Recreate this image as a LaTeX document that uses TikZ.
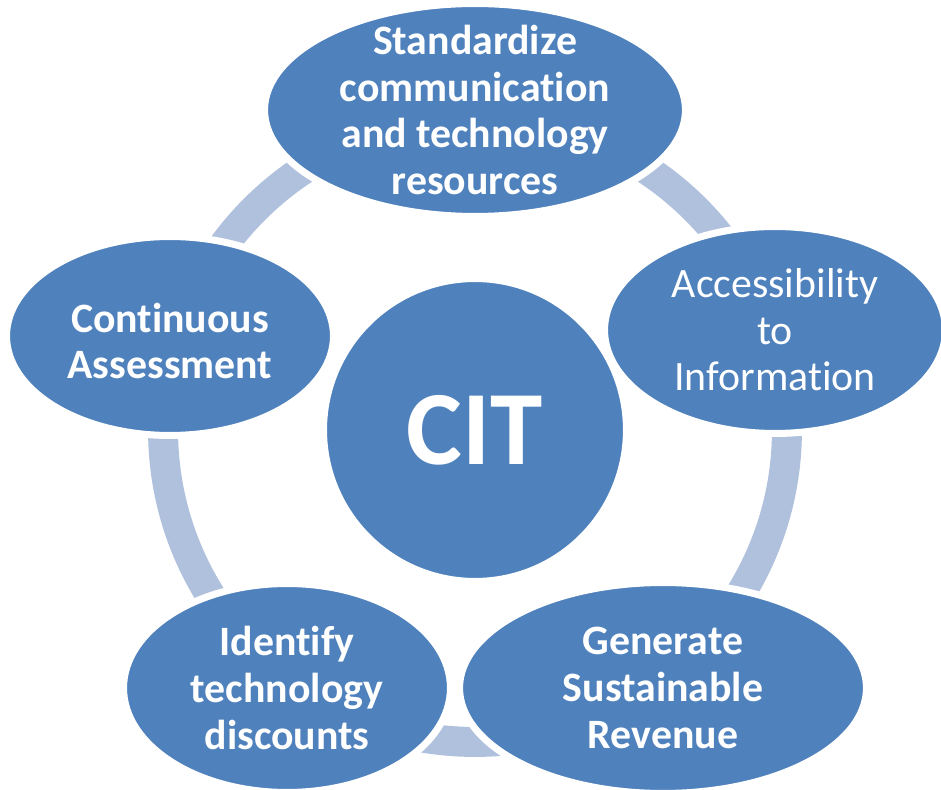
\documentclass[tikz,border=0pt]{standalone}
\usepackage{fontspec}
\setmainfont[Ligatures=NoCommon]{Carlito}
\usepackage{tikz}
\usepackage{xcolor}
\usetikzlibrary{shapes,positioning}

\definecolor{bubbleblue}{HTML}{4F81BD}
\definecolor{ringblue}{HTML}{B0C1DD}

\begin{document}
\begin{tikzpicture}[x=0.02cm, y=-0.02cm]
        \tikzstyle{bubble} = [ellipse, fill=bubbleblue, draw=white, line width=4pt, inner sep=0pt]
        \tikzstyle{label text} = [text=white, align=center, font=\bfseries\fontsize{23.8}{26.5}\selectfont]
        \useasboundingbox (0,0) rectangle (941,790);
        \coordinate (hub) at (475,430);
        % ring behind everything
        \draw[ringblue, line width=0.6cm] (hub) circle (6.24cm);
        \node[bubble, minimum width=8.42cm, minimum height=4.26cm] (standardize) at (475,110) {};
        \node[bubble, minimum width=6.82cm, minimum height=4.14cm] (access) at (775,330) {};
        \node[bubble, minimum width=8.14cm, minimum height=4.22cm] (revenue) at (663,688) {};
        \node[bubble, minimum width=6.54cm, minimum height=4.18cm] (discounts) at (287,688) {};
        \node[bubble, minimum width=6.54cm, minimum height=3.98cm] (assessment) at (170,336) {};
        \node[circle, fill=bubbleblue, draw=white, line width=4pt, minimum size=6.06cm] (cit) at (hub) {};
        % texts
        \node[label text] (standardizeText) at (standardize) {Standardize\\communication\\and technology\\resources};
        \node[label text, font=\fontsize{23.8}{26.5}\selectfont] (accessText) at (access) {Accessibility\\to\\Information};
        \node[label text] (revenueText) at (revenue) {Generate\\Sustainable\\Revenue};
        \node[label text] (discountsText) at (discounts) {Identify\\technology\\discounts};
        \node[label text] (assessmentText) at ([yshift=-5*0.02cm]assessment) {Continuous\\Assessment};
        \node[label text, font=\bfseries\fontsize{60}{70}\selectfont] (citText) at (cit) {CIT};
\end{tikzpicture}
\end{document}
